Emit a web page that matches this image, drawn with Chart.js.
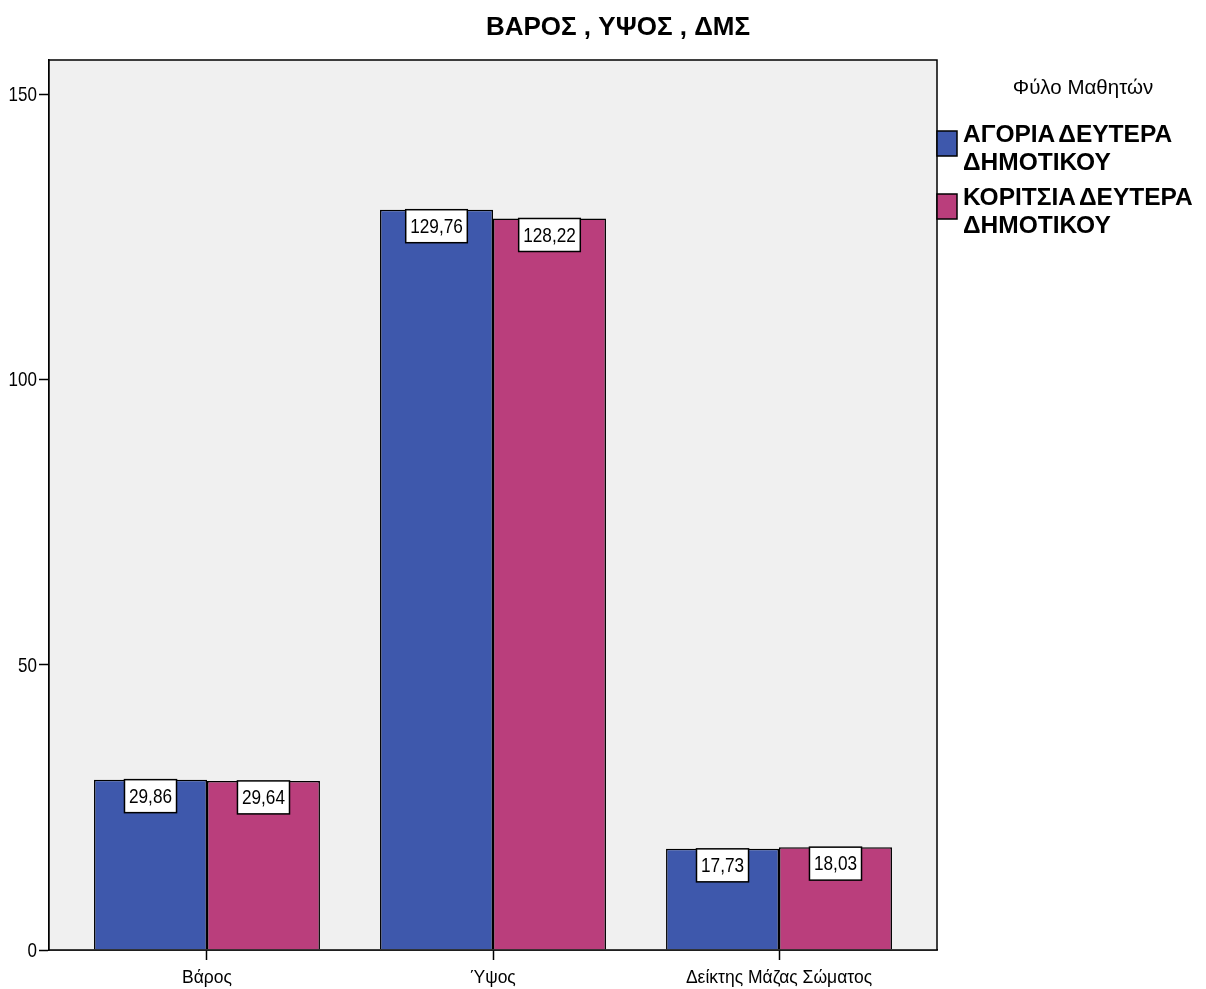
<!DOCTYPE html>
<html>
<head>
<meta charset="utf-8">
<script src="https://cdn.jsdelivr.net/npm/chart.js@4"></script>
<style>
  html, body { margin: 0; padding: 0; background: #ffffff; }
  #wrap { width: 1206px; height: 989px; position: relative; }
</style>
</head>
<body>
<div id="wrap"><canvas id="bmiChart" width="1206" height="989"></canvas></div>
<script>
const categories = ["Βάρος", "Ύψος", "Δείκτης Μάζας Σώματος"];
const boysValues = [29.86, 129.76, 17.73];
const girlsValues = [29.64, 128.22, 18.03];
const seriesLabels = [
  ["ΑΓΟΡΙΑ ΔΕΥΤΕΡΑ", "ΔΗΜΟΤΙΚΟΥ"],
  ["ΚΟΡΙΤΣΙΑ ΔΕΥΤΕΡΑ", "ΔΗΜΟΤΙΚΟΥ"],
];
const yTicks = [0, 50, 100, 150];

const chartTitle = "ΒΑΡΟΣ , ΥΨΟΣ , ΔΜΣ";
const legendTitle = "Φύλο Μαθητών";
const FONT = "'Liberation Sans', Arial, sans-serif";

const toPoints = (values) => values.map((v, i) => ({ x: i + 1, y: v }));
const formatValue = (v) => v.toFixed(2).replace(".", ",");

// text helper: numbers are set in a condensed face, so squeeze horizontally
function drawText(ctx, text, x, y, font, align, squeeze = 1) {
  ctx.save();
  ctx.font = font;
  ctx.textAlign = align;
  ctx.textBaseline = "middle";
  ctx.translate(x, y);
  ctx.scale(squeeze, 1);
  ctx.fillText(text, 0, 0);
  ctx.restore();
}

// bold legend lines have very tight word spacing
function drawTightWords(ctx, text, x, y, font, gap) {
  ctx.save();
  ctx.font = font;
  ctx.textAlign = "left";
  ctx.textBaseline = "middle";
  let cx = x;
  text.split(" ").forEach((word) => {
    ctx.fillText(word, cx, y);
    cx += ctx.measureText(word).width + gap;
  });
  ctx.restore();
}

// plot background + outer frame
const framePlugin = {
  id: "frame",
  beforeDatasetsDraw(chart) {
    const { ctx, chartArea: a } = chart;
    ctx.save();
    ctx.fillStyle = "#f0f0f0";
    ctx.fillRect(a.left, a.top, a.right - a.left, a.bottom - a.top);
    ctx.restore();
  },
  afterDatasetsDraw(chart) {
    const { ctx, chartArea: a } = chart;
    ctx.save();
    ctx.strokeStyle = "#000";
    ctx.lineWidth = 1.5;
    ctx.strokeRect(a.left, a.top, a.right - a.left, a.bottom - a.top);
    ctx.restore();
  },
};

// white value boxes at the top of each bar
const valueBoxPlugin = {
  id: "valueBoxes",
  afterDatasetsDraw(chart) {
    const { ctx } = chart;
    const font = "20px " + FONT;
    const squeeze = 0.86;
    ctx.save();
    ctx.font = font;
    chart.data.datasets.forEach((ds, di) => {
      chart.getDatasetMeta(di).data.forEach((bar, i) => {
        const text = formatValue(ds.data[i].y);
        const w = ctx.measureText(text).width * squeeze + 9;
        const h = 33;
        const x = bar.x - w / 2;
        const y = bar.y;
        ctx.fillStyle = "#fff";
        ctx.fillRect(x, y, w, h);
        ctx.strokeStyle = "#000";
        ctx.lineWidth = 1.5;
        ctx.strokeRect(x, y, w, h);
        ctx.fillStyle = "#000";
        drawText(ctx, text, bar.x, y + h / 2 + 1, font, "center", squeeze);
      });
    });
    ctx.restore();
  },
};

// axis labels, chart title and the legend on the right
const labelsPlugin = {
  id: "labels",
  afterDraw(chart) {
    const { ctx, chartArea: a } = chart;
    const xs = chart.scales.x;
    const ys = chart.scales.y;
    ctx.save();
    ctx.fillStyle = "#000";

    yTicks.forEach((v) => {
      drawText(ctx, String(v), a.left - 12, ys.getPixelForValue(v) + 1, "21px " + FONT, "right", 0.81);
    });
    categories.forEach((c, i) => {
      drawText(ctx, c, xs.getPixelForValue(i + 1), a.bottom + 28, "17.5px " + FONT, "center");
    });

    drawText(ctx, chartTitle, 618, 28, "bold 26px " + FONT, "center");
    drawText(ctx, legendTitle, 1083, 88, "20.5px " + FONT, "center");

    const boxTops = [131, 194];
    chart.data.datasets.forEach((ds, di) => {
      const top = boxTops[di];
      ctx.fillStyle = ds.backgroundColor;
      ctx.fillRect(a.right, top, 20, 25);
      ctx.strokeStyle = "#000";
      ctx.lineWidth = 1.5;
      ctx.strokeRect(a.right, top, 20, 25);
      ctx.fillStyle = "#000";
      seriesLabels[di].forEach((line, li) => {
        drawTightWords(ctx, line, a.right + 26, top + 4 + li * 28, "bold 24.5px " + FONT, 3);
      });
    });
    ctx.restore();
  },
};

const ctx = document.getElementById("bmiChart").getContext("2d");
new Chart(ctx, {
  type: "bar",
  data: {
    datasets: [
      {
        label: seriesLabels[0].join(" "),
        data: toPoints(boysValues),
        backgroundColor: "#3e58ac",
        borderColor: "#000",
        borderWidth: 1.5,
      },
      {
        label: seriesLabels[1].join(" "),
        data: toPoints(girlsValues),
        backgroundColor: "#ba3e7c",
        borderColor: "#000",
        borderWidth: 1.5,
      },
    ],
  },
  options: {
    responsive: false,
    animation: false,
    devicePixelRatio: 1,
    categoryPercentage: 0.79,
    barPercentage: 1.0,
    layout: { padding: { top: 60, right: 269, left: 0, bottom: 0 } },
    plugins: {
      legend: { display: false },
      title: { display: false },
      tooltip: { enabled: false },
    },
    scales: {
      x: {
        type: "linear",
        offset: false,
        min: 0.4476,
        max: 3.5524,
        afterBuildTicks: (scale) => {
          scale.ticks = categories.map((c, i) => ({ value: i + 1 }));
        },
        afterFit: (scale) => { scale.height = 39; },
        border: { display: true, color: "#000", width: 1.5 },
        grid: {
          offset: false,
          drawOnChartArea: false,
          drawTicks: true,
          tickLength: 10,
          tickWidth: 1.5,
          color: "#000",
        },
        ticks: { display: false },
      },
      y: {
        min: 0,
        max: 156,
        afterBuildTicks: (scale) => {
          scale.ticks = yTicks.map((v) => ({ value: v }));
        },
        afterFit: (scale) => { scale.width = 49; },
        border: { display: true, color: "#000", width: 1.5 },
        grid: {
          drawOnChartArea: false,
          drawTicks: true,
          tickLength: 10,
          tickWidth: 1.5,
          color: "#000",
        },
        ticks: { display: false },
      },
    },
  },
  plugins: [framePlugin, valueBoxPlugin, labelsPlugin],
});
</script>
</body>
</html>
